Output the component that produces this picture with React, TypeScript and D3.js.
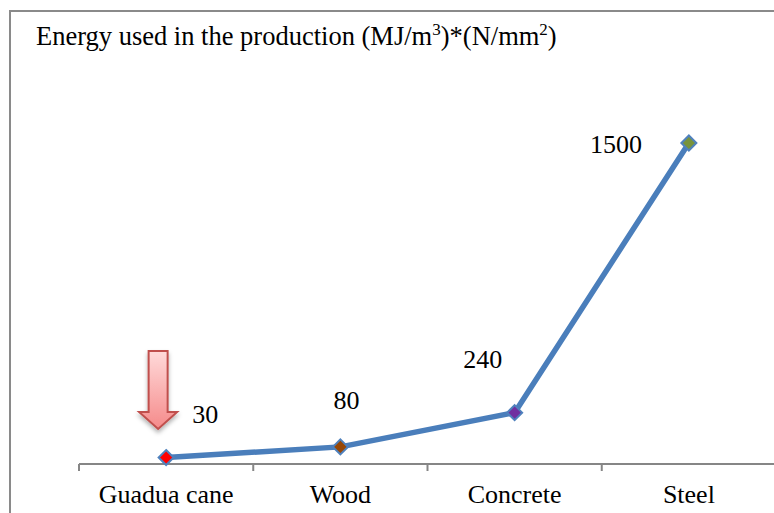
import React from "react";
import * as d3 from "d3";

// chart data
const materials = ["Guadua cane", "Wood", "Concrete", "Steel"];
const energyValues = [30, 80, 240, 1500];
const markerColors = ["#ff0000", "#974706", "#7030a0", "#77933c"];
// label nudges (px) relative to each point
const labelDx = [39, 6, -32, -73];
const labelDy = [-35, -38, -45, 10];

const width = 774;
const height = 513;
const marginLeft = 79;
const axisRight = 776;
const axisY = 464;
const topY = 143;
const font = "'Liberation Serif', 'Times New Roman', serif";

export default function App() {
  const x = d3
    .scaleBand<string>()
    .domain(materials)
    .range([marginLeft, axisRight])
    .padding(0);

  const y = d3.scaleLinear().domain([0, 1500]).range([axisY, topY]);

  const cx = (i: number) => (x(materials[i]) as number) + x.bandwidth() / 2;

  const line = d3
    .line<number>()
    .x((_, i) => cx(i))
    .y((d) => y(d));

  const r = 7.5;
  const diamond = `M0,${-r}L${r},0L0,${r}L${-r},0Z`;

  // tick positions at the band edges
  const tickXs = materials.map((m) => x(m) as number).concat([axisRight]);

  // arrow annotation pointing at the first point
  const ax = cx(0) - 8;
  const arrowPath =
    [
      [ax - 9.5, 351],
      [ax + 9.5, 351],
      [ax + 9.5, 412],
      [ax + 19, 412],
      [ax, 429],
      [ax - 19, 412],
      [ax - 9.5, 412],
    ]
      .map((p, i) => (i === 0 ? "M" : "L") + p[0] + "," + p[1])
      .join("") + "Z";

  return (
    <svg
      width={width}
      height={height}
      style={{ position: "absolute", left: 0, top: 0, background: "#fff", fontFamily: font }}
    >
      <defs>
        <linearGradient id="arrowFill" x1="0" y1="0" x2="0" y2="1">
          <stop offset="0" stopColor="#ffdada" />
          <stop offset="1" stopColor="#f58a8a" />
        </linearGradient>
        <filter id="shadow" x="-50%" y="-20%" width="200%" height="150%">
          <feDropShadow dx="0" dy="3" stdDeviation="2" floodColor="#000" floodOpacity="0.3" />
        </filter>
      </defs>

      {/* frame */}
      <rect x={10} y={11} width={width} height={height} fill="none" stroke="#8a8a8a" strokeWidth={2} />

      {/* title */}
      <text x={36} y={45} fontSize={26.5} fill="#000">
        Energy used in the production (MJ/m
        <tspan fontSize={17} dy={-10}>3</tspan>
        <tspan dy={10}>)*(N/mm</tspan>
        <tspan fontSize={17} dy={-10}>2</tspan>
        <tspan dy={10}>)</tspan>
      </text>

      {/* x axis */}
      <line x1={marginLeft} x2={axisRight} y1={axisY} y2={axisY} stroke="#868686" strokeWidth={2} />
      {tickXs.map((tx, i) => (
        <line key={i} x1={tx} x2={tx} y1={axisY} y2={axisY + 7} stroke="#868686" strokeWidth={2} />
      ))}
      {materials.map((m, i) => (
        <text key={m} x={cx(i)} y={503} fontSize={26} textAnchor="middle" fill="#000">
          {m}
        </text>
      ))}

      {/* arrow */}
      <path d={arrowPath} fill="url(#arrowFill)" stroke="#c0504d" strokeWidth={2} filter="url(#shadow)" />

      {/* series line */}
      <path
        d={line(energyValues) as string}
        fill="none"
        stroke="#4a7ebb"
        strokeWidth={5.5}
        strokeLinejoin="round"
        strokeLinecap="round"
      />
      {energyValues.map((v, i) => (
        <path
          key={i}
          d={diamond}
          transform={`translate(${cx(i)},${y(v)})`}
          fill={markerColors[i]}
          stroke="#4f81bd"
          strokeWidth={2}
        />
      ))}

      {/* data labels */}
      {energyValues.map((v, i) => (
        <text
          key={i}
          x={cx(i) + labelDx[i]}
          y={y(v) + labelDy[i]}
          fontSize={26}
          textAnchor="middle"
          fill="#000"
        >
          {v}
        </text>
      ))}
    </svg>
  );
}
